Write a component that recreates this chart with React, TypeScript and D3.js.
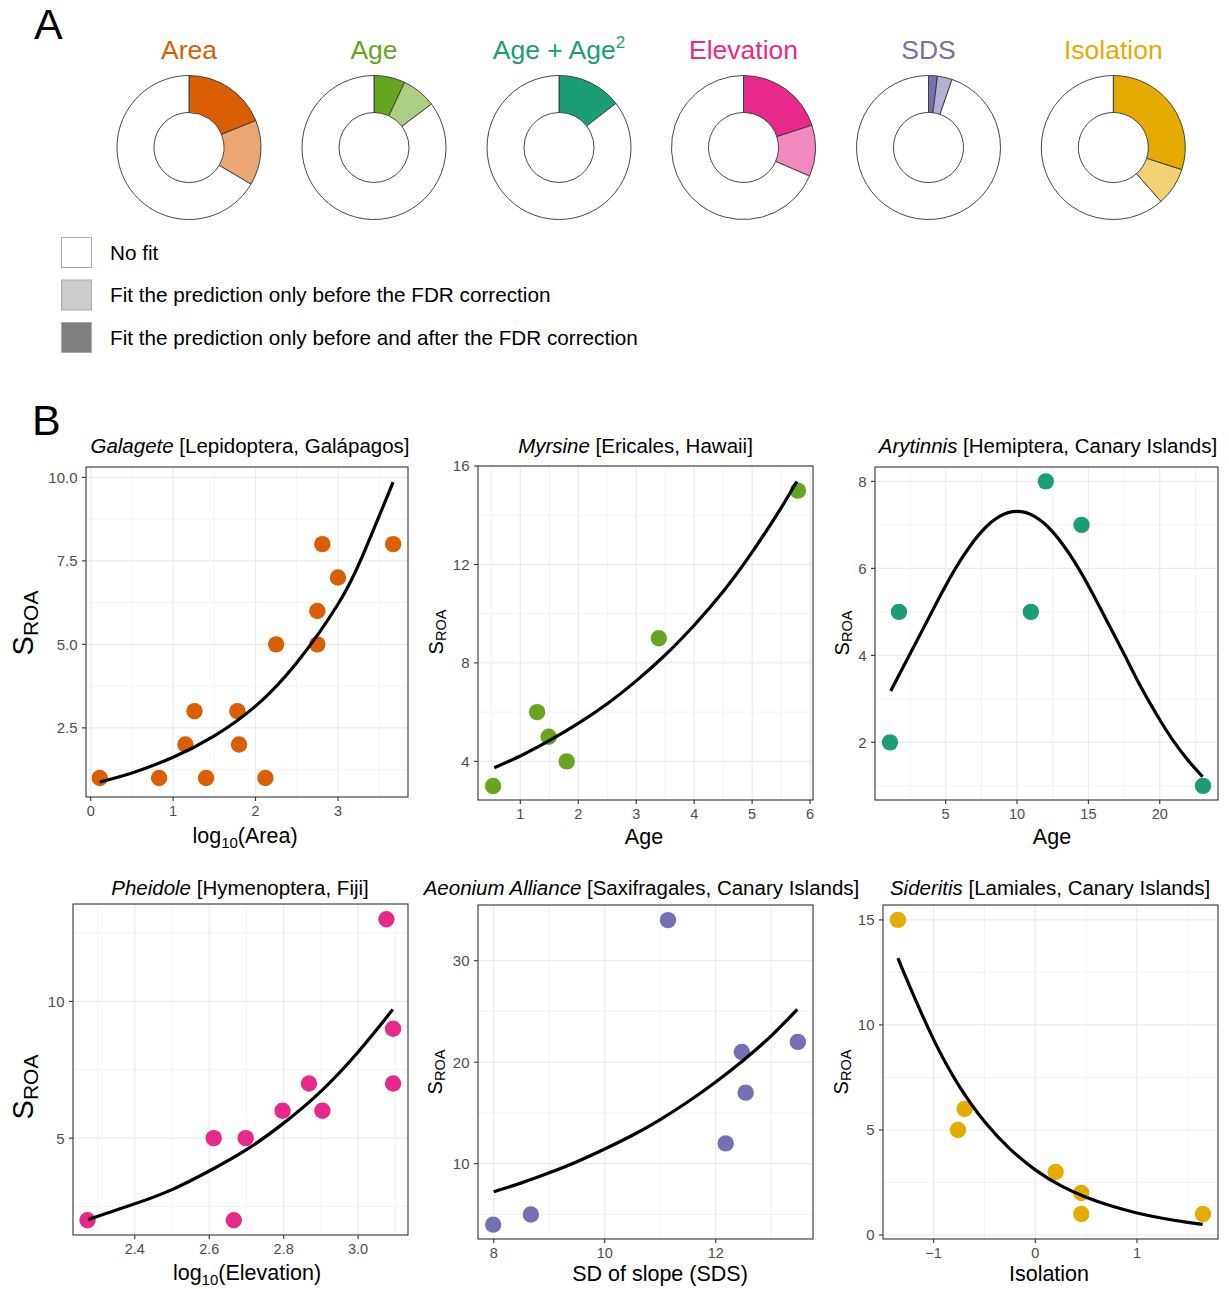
import React from "react";
import * as d3 from "d3";

// ---------- Part A: donut data ----------
const predictors = ["Area", "Age", "Age + Age2", "Elevation", "SDS", "Isolation"];
const predictorColors = ["#D95F02", "#66A61E", "#1B9E77", "#E7298A", "#7570B3", "#E6AB02"];
const fitBeforeAndAfter = [0.189, 0.07, 0.145, 0.2, 0.02, 0.3];
const fitBeforeOnly = [0.146, 0.077, 0, 0.115, 0.033, 0.085];

const legendLabels = [
  "No fit",
  "Fit the prediction only before the FDR correction",
  "Fit the prediction only before and after the FDR correction",
];
const legendFills = ["#FFFFFF", "#CCCCCC", "#7F7F7F"];

// ---------- Part B: scatter data ----------
const galageteLogArea = [0.11, 0.83, 1.4, 2.12, 1.15, 1.8, 1.26, 1.78, 2.25, 2.75, 2.75, 3.0, 2.81, 3.67];
const galageteS = [1, 1, 1, 1, 2, 2, 3, 3, 5, 5, 6, 7, 8, 8];
const galageteFitX = [0.11, 0.5, 1.0, 1.5, 2.0, 2.5, 3.0, 3.3, 3.67];
const galageteFitY = [0.88, 1.15, 1.62, 2.26, 3.15, 4.45, 6.2, 7.66, 9.86];

const myrsineAge = [0.53, 1.29, 1.49, 1.8, 3.39, 5.79];
const myrsineS = [3, 6, 5, 4, 9, 15];
const myrsineFitX = [0.55, 1, 1.5, 2, 2.5, 3, 3.5, 4, 4.5, 5, 5.5, 5.77];
const myrsineFitY = [3.74, 4.22, 4.84, 5.54, 6.34, 7.27, 8.32, 9.53, 10.9, 12.5, 14.3, 15.37];

const arytinnisAge = [1.1, 1.73, 10.97, 12.02, 14.52, 23.03];
const arytinnisS = [2, 5, 5, 8, 7, 1];
const arytinnisFitX = [1.15, 2.5, 3.75, 5, 6.25, 7.5, 8.75, 10, 11.25, 12.5, 13.75, 15, 16.25, 17.5, 18.75, 20, 21, 22, 23];
const arytinnisFitY = [3.18, 4.03, 4.82, 5.6, 6.29, 6.84, 7.19, 7.31, 7.19, 6.84, 6.29, 5.6, 4.82, 4.03, 3.23, 2.52, 2.01, 1.58, 1.21];

const pheidoleLogElev = [2.273, 2.666, 2.612, 2.698, 2.797, 2.904, 2.868, 3.094, 3.094, 3.076];
const pheidoleS = [2, 2, 5, 5, 6, 6, 7, 7, 9, 13];
const pheidoleFitX = [2.275, 2.4, 2.5, 2.6, 2.7, 2.8, 2.9, 3.0, 3.093];
const pheidoleFitY = [2.03, 2.6, 3.12, 3.8, 4.58, 5.55, 6.71, 8.15, 9.7];

const aeoniumSDS = [7.99, 8.67, 11.14, 12.47, 12.54, 12.18, 13.48];
const aeoniumS = [4, 5, 34, 21, 17, 12, 22];
const aeoniumFitX = [8, 8.5, 9, 9.5, 10, 10.5, 11, 11.5, 12, 12.5, 13, 13.47];
const aeoniumFitY = [7.24, 8.11, 9.1, 10.2, 11.45, 12.8, 14.35, 16.1, 18.05, 20.2, 22.6, 25.2];

const sideritisIso = [-1.351, -0.761, -0.695, 0.2, 0.452, 0.452, 1.649];
const sideritisS = [15, 5, 6, 3, 2, 1, 1];
const sideritisFitX = [-1.351, -1.25, -1, -0.75, -0.5, -0.25, 0, 0.25, 0.5, 0.75, 1, 1.25, 1.5, 1.646];
const sideritisFitY = [13.18, 12.0, 9.3, 7.1, 5.4, 4.1, 3.1, 2.35, 1.8, 1.38, 1.05, 0.8, 0.6, 0.51];

const FONT = "'Liberation Sans', Arial, Helvetica, sans-serif";

type PanelCfg = {
  genus: string;
  rest: string;
  color: string;
  xs: number[];
  ys: number[];
  fx: number[];
  fy: number[];
  xDomain: [number, number];
  yDomain: [number, number];
  xTicks: number[];
  yTicks: number[];
  xMinor: number[];
  yMinor: number[];
  xFmt: string;
  yFmt: string;
  box: [number, number, number, number]; // left, right, top, bottom
  titleX: number;
  titleY: number;
  xLabel: React.ReactNode;
  xLabelX: number;
  xLabelY: number;
  yLabelX: number;
  yLabelCY: number;
  bigY: boolean;
};

const log10Label = (name: string) => (
  <>
    log
    <tspan fontSize={15} dy={5}>10</tspan>
    <tspan dy={-5}>({name})</tspan>
  </>
);

const panels: PanelCfg[] = [
  {
    genus: "Galagete", rest: " [Lepidoptera, Galápagos]", color: predictorColors[0],
    xs: galageteLogArea, ys: galageteS, fx: galageteFitX, fy: galageteFitY,
    xDomain: [-0.057, 3.85], yDomain: [0.43, 10.31],
    xTicks: [0, 1, 2, 3], yTicks: [2.5, 5, 7.5, 10],
    xMinor: [0.5, 1.5, 2.5, 3.5], yMinor: [1.25, 3.75, 6.25, 8.75],
    xFmt: "d", yFmt: ".1f",
    box: [86, 408, 467, 797], titleX: 250, titleY: 453,
    xLabel: log10Label("Area"), xLabelX: 245, xLabelY: 843,
    yLabelX: 33, yLabelCY: 623, bigY: true,
  },
  {
    genus: "Myrsine", rest: " [Ericales, Hawaii]", color: predictorColors[1],
    xs: myrsineAge, ys: myrsineS, fx: myrsineFitX, fy: myrsineFitY,
    xDomain: [0.27, 6.05], yDomain: [2.43, 16.0],
    xTicks: [1, 2, 3, 4, 5, 6], yTicks: [4, 8, 12, 16],
    xMinor: [0.5, 1.5, 2.5, 3.5, 4.5, 5.5], yMinor: [6, 10, 14],
    xFmt: "d", yFmt: "d",
    box: [478, 813, 466, 800], titleX: 635.5, titleY: 453,
    xLabel: "Age", xLabelX: 644, xLabelY: 844,
    yLabelX: 443, yLabelCY: 632, bigY: false,
  },
  {
    genus: "Arytinnis", rest: " [Hemiptera, Canary Islands]", color: predictorColors[2],
    xs: arytinnisAge, ys: arytinnisS, fx: arytinnisFitX, fy: arytinnisFitY,
    xDomain: [0.05, 24.08], yDomain: [0.675, 8.33],
    xTicks: [5, 10, 15, 20], yTicks: [2, 4, 6, 8],
    xMinor: [2.5, 7.5, 12.5, 17.5, 22.5], yMinor: [1, 3, 5, 7],
    xFmt: "d", yFmt: "d",
    box: [875, 1218, 467, 800], titleX: 1048, titleY: 453,
    xLabel: "Age", xLabelX: 1052, xLabelY: 844,
    yLabelX: 849, yLabelCY: 633, bigY: false,
  },
  {
    genus: "Pheidole", rest: " [Hymenoptera, Fiji]", color: predictorColors[3],
    xs: pheidoleLogElev, ys: pheidoleS, fx: pheidoleFitX, fy: pheidoleFitY,
    xDomain: [2.234, 3.134], yDomain: [1.46, 13.56],
    xTicks: [2.4, 2.6, 2.8, 3.0], yTicks: [5, 10],
    xMinor: [2.3, 2.5, 2.7, 2.9, 3.1], yMinor: [2.5, 7.5, 12.5],
    xFmt: ".1f", yFmt: "d",
    box: [73, 408, 904, 1235], titleX: 240, titleY: 895,
    xLabel: log10Label("Elevation"), xLabelX: 247, xLabelY: 1280,
    yLabelX: 33, yLabelCY: 1087, bigY: true,
  },
  {
    genus: "Aeonium Alliance", rest: " [Saxifragales, Canary Islands]", color: predictorColors[4],
    xs: aeoniumSDS, ys: aeoniumS, fx: aeoniumFitX, fy: aeoniumFitY,
    xDomain: [7.717, 13.753], yDomain: [2.58, 35.49],
    xTicks: [8, 10, 12], yTicks: [10, 20, 30],
    xMinor: [9, 11, 13], yMinor: [5, 15, 25, 35],
    xFmt: "d", yFmt: "d",
    box: [478, 813, 905, 1239], titleX: 641.5, titleY: 895,
    xLabel: "SD of slope (SDS)", xLabelX: 660, xLabelY: 1281,
    yLabelX: 442, yLabelCY: 1072, bigY: false,
  },
  {
    genus: "Sideritis", rest: " [Lamiales, Canary Islands]", color: predictorColors[5],
    xs: sideritisIso, ys: sideritisS, fx: sideritisFitX, fy: sideritisFitY,
    xDomain: [-1.498, 1.797], yDomain: [-0.19, 15.71],
    xTicks: [-1, 0, 1], yTicks: [0, 5, 10, 15],
    xMinor: [-0.5, 0.5, 1.5], yMinor: [2.5, 7.5, 12.5],
    xFmt: "d", yFmt: "d",
    box: [883, 1218, 905, 1239], titleX: 1050, titleY: 895,
    xLabel: "Isolation", xLabelX: 1049, xLabelY: 1281,
    yLabelX: 848, yLabelCY: 1072, bigY: false,
  },
];

function Panel({ p }: { p: PanelCfg }) {
  const [l, r, t, b] = p.box;
  const x = d3.scaleLinear().domain(p.xDomain).range([l, r]);
  const y = d3.scaleLinear().domain(p.yDomain).range([b, t]);
  const fx = d3.format(p.xFmt);
  const fy = d3.format(p.yFmt);
  const fitPts: [number, number][] = p.fx.map((v, i) => [v, p.fy[i]]);
  const line = d3
    .line<[number, number]>()
    .x((d) => x(d[0]))
    .y((d) => y(d[1]))
    .curve(d3.curveNatural);
  const inX = (v: number) => v >= p.xDomain[0] && v <= p.xDomain[1];
  const inY = (v: number) => v >= p.yDomain[0] && v <= p.yDomain[1];
  const sS = p.bigY ? 29 : 20;
  const sSub = p.bigY ? 21 : 14.5;
  const sDy = p.bigY ? 5 : 2.5;
  return (
    <g>
      <rect x={l} y={t} width={r - l} height={b - t} fill="#FFFFFF" />
      {p.xMinor.filter(inX).map((v) => (
        <line key={"xm" + v} x1={x(v)} x2={x(v)} y1={t} y2={b} stroke="#EBEBEB" strokeWidth={0.6} />
      ))}
      {p.yMinor.filter(inY).map((v) => (
        <line key={"ym" + v} x1={l} x2={r} y1={y(v)} y2={y(v)} stroke="#EBEBEB" strokeWidth={0.6} />
      ))}
      {p.xTicks.map((v) => (
        <line key={"xM" + v} x1={x(v)} x2={x(v)} y1={t} y2={b} stroke="#EBEBEB" strokeWidth={1.2} />
      ))}
      {p.yTicks.map((v) => (
        <line key={"yM" + v} x1={l} x2={r} y1={y(v)} y2={y(v)} stroke="#EBEBEB" strokeWidth={1.2} />
      ))}
      {p.xs.map((v, i) => (
        <circle key={"pt" + i} cx={x(v)} cy={y(p.ys[i])} r={8.2} fill={p.color} />
      ))}
      <path d={line(fitPts) || ""} fill="none" stroke="#000000" strokeWidth={3.2} />
      <rect x={l} y={t} width={r - l} height={b - t} fill="none" stroke="#333333" strokeWidth={1.1} />
      {p.xTicks.map((v) => (
        <g key={"xt" + v}>
          <line x1={x(v)} x2={x(v)} y1={b} y2={b + 4} stroke="#333333" strokeWidth={1.1} />
          <text x={x(v)} y={b + 19} textAnchor="middle" fontSize={14.5} fill="#4D4D4D">
            {fx(v)}
          </text>
        </g>
      ))}
      {p.yTicks.map((v) => (
        <g key={"yt" + v}>
          <line x1={l - 4} x2={l} y1={y(v)} y2={y(v)} stroke="#333333" strokeWidth={1.1} />
          <text x={l - 8.5} y={y(v)} dy="0.36em" textAnchor="end" fontSize={15} fill="#4D4D4D">
            {fy(v)}
          </text>
        </g>
      ))}
      <text x={p.titleX} y={p.titleY} textAnchor="middle" fontSize={20.5} fill="#000000">
        <tspan fontStyle="italic">{p.genus}</tspan>
        <tspan>{p.rest}</tspan>
      </text>
      <text x={p.xLabelX} y={p.xLabelY} textAnchor="middle" fontSize={21.5} fill="#000000">
        {p.xLabel}
      </text>
      <text
        transform={`translate(${p.yLabelX},${p.yLabelCY}) rotate(-90)`}
        textAnchor="middle"
        fontSize={sS}
        fill="#000000"
      >
        <tspan>S</tspan>
        <tspan fontSize={sSub} dy={sDy}>ROA</tspan>
      </text>
    </g>
  );
}

function lighten(hex: string, alpha: number) {
  const c = d3.rgb(hex);
  const mix = (v: number) => Math.round(255 - alpha * (255 - v));
  return d3.rgb(mix(c.r), mix(c.g), mix(c.b)).formatHex();
}

const donutCX = [189, 374, 559, 743.5, 928.5, 1113.3];
const donutCY = 147.5;

function Donut({ i }: { i: number }) {
  const dark = fitBeforeAndAfter[i];
  const light = fitBeforeOnly[i];
  const values = [dark, light, 1 - dark - light];
  const fills = [predictorColors[i], lighten(predictorColors[i], 0.55), "#FFFFFF"];
  const pie = d3.pie<number>().sort(null).value((d) => d);
  const arcs = pie(values);
  const arc = d3.arc<d3.PieArcDatum<number>>().innerRadius(35).outerRadius(72);
  const cx = donutCX[i];
  const name = predictors[i];
  return (
    <g>
      <g transform={`translate(${cx},${donutCY})`}>
        {arcs.map((a, k) =>
          a.endAngle - a.startAngle > 0 ? (
            <path key={k} d={arc(a) || ""} fill={fills[k]} stroke="#333333" strokeWidth={0.9} />
          ) : null
        )}
      </g>
      <text x={cx} y={58.5} textAnchor="middle" fontSize={26.5} fill={predictorColors[i]}>
        {name === "Age + Age2" ? (
          <>
            Age + Age<tspan fontSize={17} dy={-11}>2</tspan>
          </>
        ) : (
          name
        )}
      </text>
    </g>
  );
}

export default function App() {
  return (
    <svg
      width={1229}
      height={1289}
      viewBox="0 0 1229 1289"
      style={{ position: "absolute", left: 0, top: 0, background: "#FFFFFF" }}
      fontFamily={FONT}
    >
      <rect x={0} y={0} width={1229} height={1289} fill="#FFFFFF" />
      <text x={34} y={39} fontSize={43} fill="#000000">A</text>
      <text x={32} y={435} fontSize={43} fill="#000000">B</text>
      {predictors.map((_, i) => (
        <Donut key={i} i={i} />
      ))}
      {legendLabels.map((lab, i) => (
        <g key={lab}>
          <rect
            x={61.5}
            y={237.5 + i * 42.5}
            width={30}
            height={30}
            fill={legendFills[i]}
            stroke="#AAAAAA"
            strokeWidth={1}
          />
          <text x={110} y={259.5 + i * 42.5} fontSize={20.7} fill="#000000">
            {lab}
          </text>
        </g>
      ))}
      {panels.map((p, i) => (
        <Panel key={i} p={p} />
      ))}
    </svg>
  );
}
